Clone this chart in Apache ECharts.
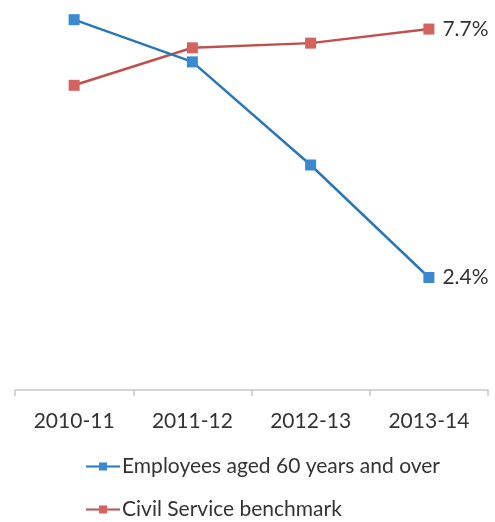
<!DOCTYPE html>
<html>
<head>
<meta charset="utf-8">
<script src="https://cdn.jsdelivr.net/npm/echarts@6/dist/echarts.min.js"></script>
<style>
  html, body { margin: 0; padding: 0; background: #fff; }
  #chart { width: 495px; height: 522px; }
</style>
</head>
<body>
<div id="chart"></div>
<script>
// Financial years on the category axis
const years = ['2010-11', '2011-12', '2012-13', '2013-14'];
// Percentage of staff aged 60 and over
const employees60 = [7.9, 7.0, 4.8, 2.4];
// Civil Service benchmark percentage
const benchmark = [6.5, 7.3, 7.4, 7.7];
// Series names shown in the key
const seriesNames = ['Employees aged 60 years and over', 'Civil Service benchmark'];

const fontFamily = 'Lato, "Open Sans", sans-serif';
const textColor = '#333333';

function endLabel() {
  return {
    show: true,
    position: 'right',
    distance: 8,
    color: textColor,
    fontSize: 21,
    fontFamily: fontFamily,
    formatter: function (p) {
      return p.dataIndex === years.length - 1 ? p.value.toFixed(1) + '%' : '';
    }
  };
}

// One key row per series, stacked under the axis
function keyRow(name, top) {
  return {
    orient: 'vertical',
    left: 80,
    top: top,
    itemWidth: 34,
    itemHeight: 10,
    textStyle: { color: textColor, fontSize: 21, fontFamily: fontFamily, padding: [0, 0, 0, -3] },
    data: [name]
  };
}

const chart = echarts.init(document.getElementById('chart'));
chart.setOption({
  animation: false,
  backgroundColor: '#ffffff',
  grid: { left: 15, right: 7, top: 15, bottom: 132, containLabel: false },
  xAxis: {
    type: 'category',
    data: years,
    boundaryGap: true,
    axisLine: { lineStyle: { color: '#c8c8c8', width: 1.5 } },
    axisTick: { show: true, length: 6, lineStyle: { color: '#c8c8c8', width: 1.5 } },
    axisLabel: { color: textColor, fontSize: 21, fontFamily: fontFamily, margin: 21 }
  },
  yAxis: {
    type: 'value',
    min: 0,
    max: 8,
    show: false
  },
  legend: [keyRow(seriesNames[0], 451), keyRow(seriesNames[1], 494)],
  series: [
    {
      name: seriesNames[0],
      type: 'line',
      data: employees60,
      symbol: 'rect',
      symbolSize: 11,
      lineStyle: { color: '#2a77b5', width: 2.5 },
      itemStyle: { color: '#3a88d0' },
      label: endLabel(),
      z: 3
    },
    {
      name: seriesNames[1],
      type: 'line',
      data: benchmark,
      symbol: 'rect',
      symbolSize: 11,
      lineStyle: { color: '#c0504d', width: 2.5 },
      itemStyle: { color: '#d4625e' },
      label: endLabel(),
      z: 2
    }
  ]
});
</script>
</body>
</html>
